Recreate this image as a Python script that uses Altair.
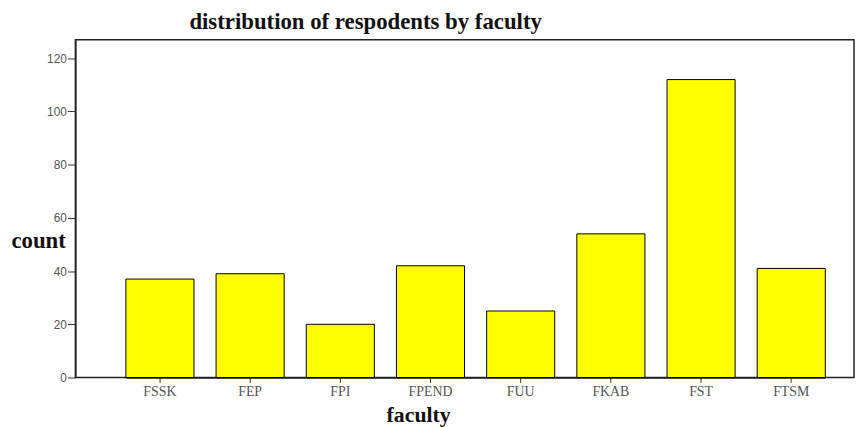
import altair as alt
import pandas as pd

faculties = ["FSSK", "FEP", "FPI", "FPEND", "FUU", "FKAB", "FST", "FTSM"]
counts = [37, 39, 20, 42, 25, 54, 112, 41]
y_ticks = [0, 20, 40, 60, 80, 100, 120]

df = pd.DataFrame({"faculty": faculties, "count": counts})

chart = alt.Chart(df).mark_bar(
    color="#FFFF00", stroke="#000000", strokeWidth=1
).encode(
    x=alt.X(
        "faculty:N",
        sort=faculties,
        scale=alt.Scale(range=[51, 757], paddingInner=0.245, paddingOuter=0),
        axis=alt.Axis(
            title="faculty",
            titleFont="Liberation Serif",
            titleFontSize=22,
            titleFontWeight="bold",
            titleColor="#111111",
            titleX=346,
            titleY=37,
            titleAlign="center",
            titleBaseline="middle",
            labelFont="Liberation Serif",
            labelFontSize=14,
            labelColor="#555555",
            labelAngle=0,
            labelPadding=2,
            tickSize=5,
            tickColor="#333333",
            domainColor="#222222",
            domainWidth=1.5,
        ),
    ),
    y=alt.Y(
        "count:Q",
        scale=alt.Scale(domain=[0, 127], nice=False),
        axis=alt.Axis(
            title="count",
            values=y_ticks,
            titleFont="Liberation Serif",
            titleFontSize=23,
            titleFontWeight="bold",
            titleColor="#111111",
            titleAngle=0,
            titleX=-65,
            titleY=203,
            titleAlign="left",
            titleBaseline="middle",
            labelFont="Liberation Sans",
            labelFontSize=12,
            labelColor="#555555",
            labelPadding=1,
            tickSize=8,
            tickColor="#333333",
            domainColor="#222222",
            domainWidth=1.5,
            grid=False,
        ),
    ),
).properties(
    width=786,
    height=341,
    title=alt.TitleParams(
        "distribution of respodents by faculty",
        font="Liberation Serif",
        fontSize=23,
        fontWeight="bold",
        color="#111111",
        dx=-100,
        offset=6,
    ),
    autosize=alt.AutoSizeParams(type="none"),
    padding={"left": 68, "top": 30, "right": 3, "bottom": 48},
).configure_view(
    stroke="#222222", strokeWidth=1.5
)

chart.save("out.html", embed_options={"renderer": "svg", "actions": False})
